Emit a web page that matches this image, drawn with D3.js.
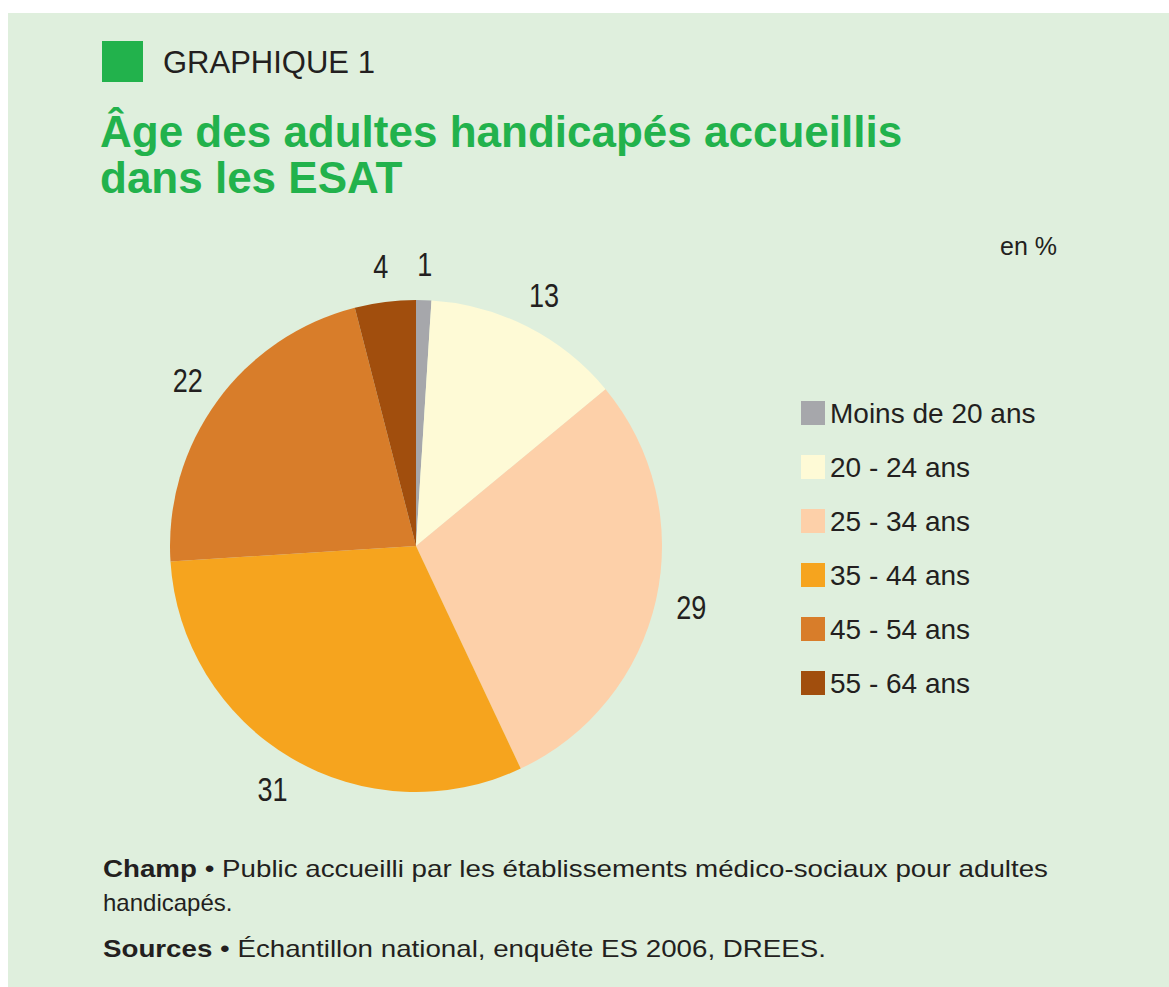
<!DOCTYPE html>
<html lang="fr">
<head>
<meta charset="UTF-8">
<title>Âge des adultes handicapés accueillis dans les ESAT</title>
<script src="https://d3js.org/d3.v7.min.js"></script>
<style>
  body { margin: 0; background: #fff; }
  text { font-family: "Liberation Sans", Arial, sans-serif; fill: #231f20; }
</style>
</head>
<body>
<svg id="chart" width="1169" height="987"></svg>
<script>
// Data
const categories = ["Moins de 20 ans", "20 - 24 ans", "25 - 34 ans", "35 - 44 ans", "45 - 54 ans", "55 - 64 ans"];
const values = [1, 13, 29, 31, 22, 4];
const colors = ["#a6a7ab", "#fefad6", "#fdd0a9", "#f6a41e", "#d87d2a", "#a14e0d"];

const svg = d3.select("#chart");

// Panel background
svg.append("rect")
    .attr("x", 8).attr("y", 13)
    .attr("width", 1161).attr("height", 974)
    .attr("fill", "#dfefdd");

// Header
svg.append("rect")
    .attr("x", 102).attr("y", 41)
    .attr("width", 41).attr("height", 41)
    .attr("fill", "#22b24c");

svg.append("text")
    .attr("x", 163).attr("y", 73)
    .attr("font-size", 31)
    .text("GRAPHIQUE 1");

const title = svg.append("text")
    .attr("x", 100).attr("y", 147)
    .attr("font-size", 44)
    .attr("font-weight", "bold")
    .style("fill", "#22b24c");
title.append("tspan").attr("x", 100).text("Âge des adultes handicapés accueillis");
title.append("tspan").attr("x", 100).attr("dy", 46).text("dans les ESAT");

svg.append("text")
    .attr("x", 1057).attr("y", 255)
    .attr("text-anchor", "end")
    .attr("font-size", 25)
    .text("en %");

// Pie
const cx = 416, cy = 546, radius = 246, labelRadius = 282;
const g = svg.append("g").attr("transform", `translate(${cx},${cy})`);

const pie = d3.pie().sort(null).value(d => d.value);
const data = categories.map((c, i) => ({ key: c, value: values[i], color: colors[i] }));

const arc = d3.arc().innerRadius(0).outerRadius(radius);
const labelArc = d3.arc().innerRadius(labelRadius).outerRadius(labelRadius);

const arcs = g.selectAll(".arc")
    .data(pie(data))
    .enter().append("g")
    .attr("class", "arc");

arcs.append("path")
    .attr("d", arc)
    .attr("fill", d => d.data.color);

arcs.append("text")
    .attr("transform", d => {
        const [x, y] = labelArc.centroid(d);
        return `translate(${x},${y}) scale(0.82,1)`;
    })
    .attr("text-anchor", "middle")
    .attr("dy", "0.36em")
    .attr("font-size", 33)
    .text(d => d.data.value);

// Legend
const legend = svg.append("g").attr("transform", "translate(801,401)");
const rowStep = 54;

const rows = legend.selectAll(".row")
    .data(data)
    .enter().append("g")
    .attr("class", "row")
    .attr("transform", (d, i) => `translate(0,${i * rowStep})`);

rows.append("rect")
    .attr("width", 24).attr("height", 24)
    .attr("fill", d => d.color);

rows.append("text")
    .attr("x", 29).attr("y", 22)
    .attr("font-size", 28)
    .text(d => d.key);

// Footer notes
const note1 = svg.append("text")
    .attr("x", 103).attr("y", 877)
    .attr("font-size", 24)
    .attr("textLength", 945)
    .attr("lengthAdjust", "spacingAndGlyphs");
note1.append("tspan").attr("font-weight", "bold").text("Champ");
note1.append("tspan").text(" • Public accueilli par les établissements médico-sociaux pour adultes");

svg.append("text")
    .attr("x", 103).attr("y", 911)
    .attr("font-size", 24)
    .text("handicapés.");

const note2 = svg.append("text")
    .attr("x", 103).attr("y", 957)
    .attr("font-size", 24)
    .attr("textLength", 723)
    .attr("lengthAdjust", "spacingAndGlyphs");
note2.append("tspan").attr("font-weight", "bold").text("Sources");
note2.append("tspan").text(" • Échantillon national, enquête ES 2006, DREES.");
</script>
</body>
</html>
